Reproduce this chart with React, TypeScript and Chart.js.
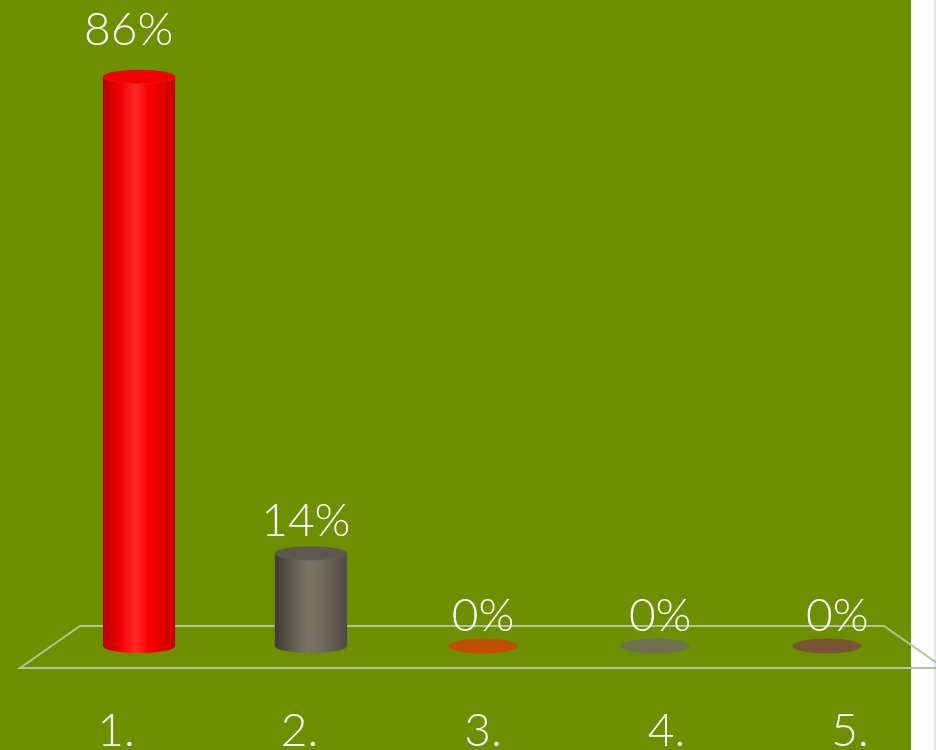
import React, { useEffect, useRef } from "react";
import { Chart, registerables } from "chart.js";

Chart.register(...registerables);

const categories = ["1.", "2.", "3.", "4.", "5."];
const values = [86, 14, 0, 0, 0];
const yMax = 97.6;

const sideColors = [
  ["#b40000", "#f20000", "#ff2c2c", "#ff0000", "#c40000"],
  ["#3e3a34", "#625c52", "#7c7466", "#746d5f", "#4e4943"],
  ["#9a3c00", "#c24e00", "#d05a0a", "#c24e00", "#9a3c00"],
  ["#585a40", "#6e7052", "#7a7c5e", "#6e7052", "#585a40"],
  ["#5e3f26", "#7a5535", "#865f3e", "#7a5535", "#5e3f26"],
];
const topColors = ["#f20000", "#5e5950", "#c24e00", "#6e7052", "#7a5535"];

const BG = "#6d9000";
const FLOOR = "#b4c49a";
const FONT = "300 46px Lato, 'Open Sans', sans-serif";

const cylPlugin = {
  id: "cyl",
  beforeDraw(chart: any) {
    const { ctx, chartArea } = chart;
    ctx.save();
    ctx.fillStyle = "#ffffff";
    ctx.fillRect(0, 0, chart.width, chart.height);
    ctx.fillStyle = BG;
    ctx.fillRect(0, 0, 911, chart.height);
    ctx.fillStyle = "#e4e4e4";
    ctx.fillRect(934, 0, 2, chart.height);
    const backY = chartArea.bottom - 20;
    const frontY = chartArea.bottom + 22;
    const backL = chartArea.left + 27;
    const backR = chartArea.right - 29;
    const dx = 60;
    ctx.strokeStyle = FLOOR;
    ctx.lineWidth = 2;
    ctx.beginPath();
    ctx.moveTo(backL - dx, frontY);
    ctx.lineTo(backL, backY);
    ctx.lineTo(backR, backY);
    ctx.lineTo(backR + dx, frontY);
    ctx.closePath();
    ctx.stroke();
    ctx.restore();
  },
  afterDatasetsDraw(chart: any) {
    const { ctx, chartArea } = chart;
    const meta = chart.getDatasetMeta(0);
    const ry = 7;
    const cx = (chartArea.left + chartArea.right) / 2;
    ctx.save();
    meta.data.forEach((el: any, i: number) => {
      const x = el.x;
      const top = el.y;
      const base = el.base;
      const rx = el.width / 2;
      const v = values[i];
      if (v > 0) {
        const g = ctx.createLinearGradient(x - rx, 0, x + rx, 0);
        const sc = sideColors[i];
        g.addColorStop(0, sc[0]);
        g.addColorStop(0.25, sc[1]);
        g.addColorStop(0.45, sc[2]);
        g.addColorStop(0.62, sc[3]);
        g.addColorStop(1, sc[4]);
        ctx.fillStyle = g;
        ctx.beginPath();
        ctx.moveTo(x - rx, top);
        ctx.lineTo(x - rx, base);
        ctx.ellipse(x, base, rx, ry, 0, Math.PI, 0, true);
        ctx.lineTo(x + rx, top);
        ctx.ellipse(x, top, rx, ry, 0, 0, Math.PI, false);
        ctx.closePath();
        ctx.fill();
        ctx.fillStyle = topColors[i];
        ctx.beginPath();
        ctx.ellipse(x, top, rx, ry, 0, 0, Math.PI * 2);
        ctx.fill();
      } else {
        ctx.fillStyle = topColors[i];
        ctx.beginPath();
        ctx.ellipse(x, base, rx - 1.5, ry + 0.5, 0, 0, Math.PI * 2);
        ctx.fill();
      }
      ctx.fillStyle = "#ffffff";
      ctx.font = FONT;
      ctx.textAlign = "center";
      ctx.textBaseline = "alphabetic";
      const lx = cx + (x - cx) * 1.03;
      ctx.fillText(v + "%", lx, top - 15 - v * 0.19);
      const cxl = cx + (x - cx) * 1.067;
      ctx.fillText(categories[i], cxl, 746);
    });
    ctx.restore();
  },
};

export default function App() {
  const ref = useRef<HTMLCanvasElement>(null);
  useEffect(() => {
    if (!ref.current) return;
    const chart = new Chart(ref.current, {
      type: "bar",
      data: {
        labels: categories,
        datasets: [
          {
            data: values,
            backgroundColor: "rgba(0,0,0,0)",
            borderWidth: 0,
            categoryPercentage: 1,
            barPercentage: 0.42,
          },
        ],
      },
      options: {
        responsive: false,
        animation: false,
        layout: { padding: { left: 53, right: 23, top: 0, bottom: 104 } },
        plugins: { legend: { display: false }, tooltip: { enabled: false } },
        scales: {
          x: { display: false, offset: true },
          y: { display: false, min: 0, max: yMax },
        },
      },
      plugins: [cylPlugin],
    });
    return () => chart.destroy();
  }, []);
  return (
    <div style={{ position: "absolute", left: 0, top: 0, width: 936, height: 750 }}>
      <canvas ref={ref} width={936} height={750} />
    </div>
  );
}
